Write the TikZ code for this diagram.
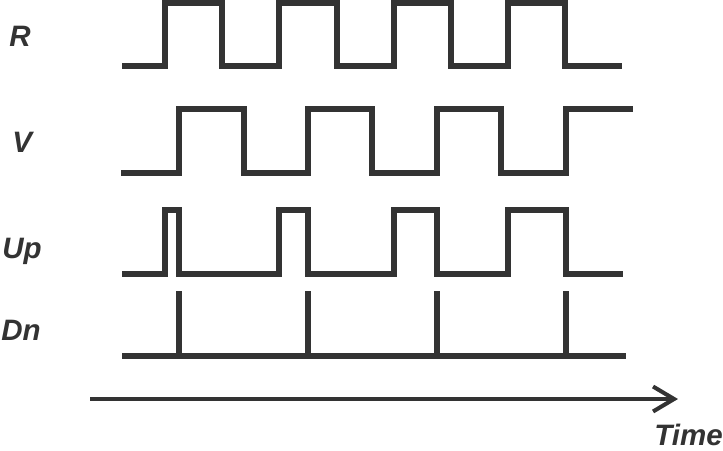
\documentclass[tikz,border=0pt]{standalone}
\usepackage{fontspec}
\setmainfont{Liberation Sans}
\usepackage{xcolor}
\usepackage{tikz}
\usetikzlibrary{arrows.meta, positioning}
\definecolor{wavegray}{RGB}{51,51,51}
\tikzstyle{signame} = [anchor=base west, inner sep=0pt, font=\fontsize{16.8}{18}\selectfont\bfseries\itshape, text=wavegray]
\tikzstyle{wave} = [line width=2.9pt, draw=wavegray, line join=miter]
\tikzstyle{timearrow} = [line width=2.3pt, draw=wavegray, -{Straight Barb[length=0.42cm, width=0.5cm]}]

\begin{document}
\begin{tikzpicture}[x=0.02cm, y=-0.02cm]
        \useasboundingbox (0,0) rectangle (723,450);

        % Signal names
        \node (lblR) [signame] at (9,46) {R};
        \node (lblV) [signame] at (12,152) {V};
        \node (lblUp) [signame] at (2,258) {Up};
        \node (lblDn) [signame] at (1,340) {Dn};

        % Reference R
        \draw [wave] (122,66) -| (165,3) -| (222,66) -| (279,3) -| (337,66) -| (394,3)
                -| (451,66) -| (508,3) -| (565,66) -- (622,66);

        % Feedback V
        \draw [wave] (121,173) -| (179,109) -| (244,173) -| (308,109) -| (372,173)
                -| (437,109) -| (501,173) -| (566,109) -- (633,109);

        % Up pulses
        \draw [wave] (122,274) -| (165,210) -| (179,274) -| (279,210) -| (308,274)
                -| (394,210) -| (437,274) -| (508,210) -| (566,274) -- (623,274);

        % Dn pulses
        \draw [wave] (122,356) -- (626,356);
        \foreach \x in {179,308,437,566}
                \draw [wave] (\x,356) -- (\x,291);

        % Time axis
        \coordinate (tstart) at (90,399);
        \coordinate (tend) at (678,399);
        \draw [timearrow] (tstart) -- (tend);
        \node (lblTime) [signame] at (654,445) {Time};
      \end{tikzpicture}
\end{document}
